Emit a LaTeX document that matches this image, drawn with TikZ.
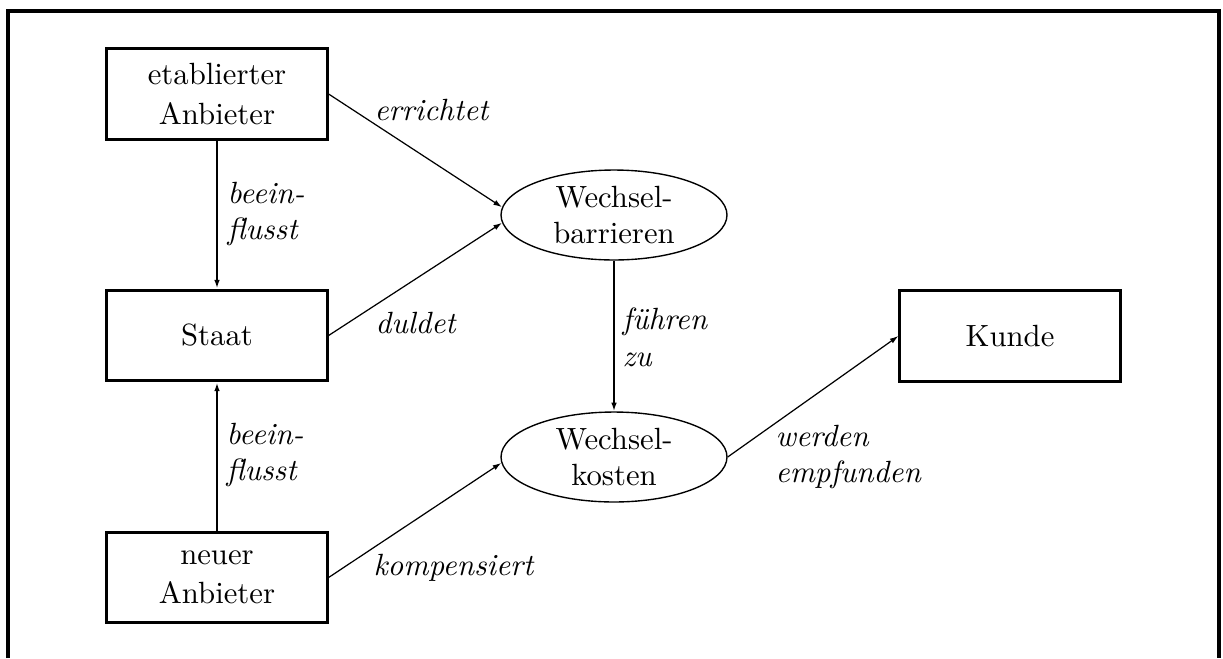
\documentclass[tikz,border=0pt]{standalone}
\usetikzlibrary{shapes.geometric,arrows.meta}

\begin{document}
\begin{tikzpicture}[
    x=0.3257pt, y=-0.3257pt,
    actor/.style={draw, line width=1pt, rectangle, minimum width=71.7pt,
      minimum height=29.6pt, inner sep=0pt, align=center,
      font=\fontsize{10}{12.8}\selectfont},
    effect/.style={draw, line width=0.45pt, ellipse, minimum width=73.6pt,
      minimum height=29.3pt, inner sep=0pt, align=center},
    verb/.style={font=\itshape, align=left, inner sep=0pt, anchor=west},
    tip/.style={-{Latex[length=2.8pt,width=1.8pt]}},
    thinarrow/.style={tip, line width=0.4pt},
    thickarrow/.style={tip, line width=0.7pt}
  ]
  \useasboundingbox (0,0) rectangle (1223,658);

  % outer frame, open at the bottom
  \draw[line width=1.3pt, line join=miter] (8,658) -- (8,11) -- (1219,11) -- (1219,658);

  % actors
  \node[actor] (eta)   at (217,94)    {etablierter\\Anbieter};
  \node[actor] (staat) at (217,335.5) {Staat};
  \node[actor] (neu)   at (217,577.5) {neuer\\Anbieter};
  \node[actor] (kunde) at (1010,336)  {Kunde};

  % effects
  \node[effect] (bar)  at (614,215) {Wechsel-\\barrieren};
  \node[effect] (kost) at (614,457) {Wechsel-\\kosten};

  % relations
  \draw[thickarrow] (eta.south) -- (staat.north);
  \draw[thickarrow] (neu.north) -- (staat.south);
  \draw[thickarrow] (bar.south) -- (kost.north);
  \draw[thinarrow] (eta.east)   -- (bar.176);
  \draw[thinarrow] (staat.east) -- (bar.184);
  \draw[thinarrow] (neu.east)   -- (kost.183);
  \draw[thinarrow] (kost.east)  -- (kunde.west);

  % relation labels
  \node[verb] (l1) at (227,214) {beein-\\flusst};
  \node[verb] (l2) at (226,455) {beein-\\flusst};
  \node[verb] (l3) at (374,110) {errichtet};
  \node[verb] (l4) at (375,323) {duldet};
  \node[verb] (l5) at (373,568) {kompensiert};
  \node[verb] (l6) at (622,337) {führen\\zu};
  \node[verb] (l7) at (775,457) {werden\\empfunden};
\end{tikzpicture}
\end{document}
